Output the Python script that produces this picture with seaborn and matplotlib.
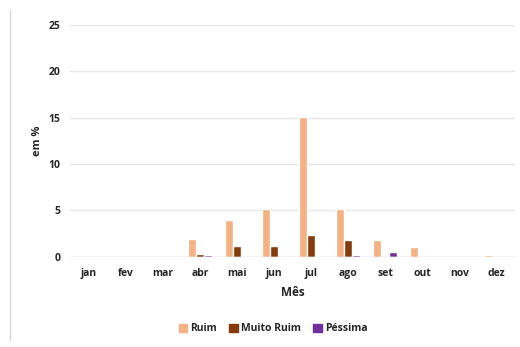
import pandas as pd
import matplotlib.pyplot as plt
import seaborn as sns
from matplotlib.lines import Line2D

# Dados (em %) por mês
meses = ["jan", "fev", "mar", "abr", "mai", "jun", "jul", "ago", "set", "out", "nov", "dez"]
ruim = [0, 0, 0, 1.9, 4.0, 5.2, 15.1, 5.1, 1.8, 1.05, 0, 0.15]
muito_ruim = [0, 0, 0, 0.3, 1.2, 1.2, 2.4, 1.8, 0, 0, 0, 0]
pessima = [0, 0, 0, 0.15, 0, 0, 0, 0.15, 0.5, 0, 0, 0]
categorias = ["Ruim", "Muito Ruim", "Péssima"]
cores = ["#F4B183", "#843C0C", "#7030A0"]

df = pd.DataFrame({"Mês": meses, "Ruim": ruim, "Muito Ruim": muito_ruim, "Péssima": pessima})
df = df.melt(id_vars="Mês", var_name="Categoria", value_name="valor")

sns.set_style("white")
plt.rcParams["font.family"] = ["Open Sans", "DejaVu Sans"]

fig, ax = plt.subplots(figsize=(5.2, 3.47), dpi=100)
fig.subplots_adjust(left=0.135, right=0.99, top=0.928, bottom=0.26)

sns.barplot(data=df, x="Mês", y="valor", hue="Categoria", hue_order=categorias,
            palette=cores, width=0.64, gap=0, saturation=1, ax=ax, legend=False)

ax.set_ylim(0, 25)
ax.set_yticks([0, 5, 10, 15, 20, 25])
ax.grid(axis="y", color="#e6e6e6", linewidth=1)
ax.set_axisbelow(True)
for s in ax.spines.values():
    s.set_visible(False)
ax.axhline(0, color="#d9d9d9", linewidth=1)
ax.tick_params(length=0, labelsize=7.5)
ax.tick_params(axis="x", pad=8)
ax.tick_params(axis="y", pad=7)
for lbl in ax.get_xticklabels() + ax.get_yticklabels():
    lbl.set_fontweight("bold")
ax.set_xlabel("Mês", fontsize=8.5, fontweight="bold", labelpad=5)
ax.set_ylabel("em %", fontsize=8, fontweight="bold", labelpad=4)

handles = [plt.Rectangle((0, 0), 1, 1, color=c) for c in cores]
fig.legend(handles, categorias, loc="lower center", bbox_to_anchor=(0.525, 0.01), ncol=3,
           frameon=False, prop={"size": 7.5, "weight": "bold"}, handlelength=0.8,
           handleheight=0.8, handletextpad=0.3, columnspacing=1.2)

fig.add_artist(Line2D([0.02, 0.02], [0.02, 0.97], color="#d9d9d9", linewidth=1))

fig.savefig("out.png", dpi=100)
